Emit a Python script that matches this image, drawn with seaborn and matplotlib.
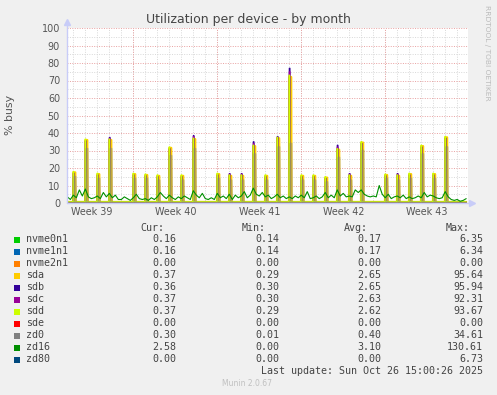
import numpy as np
import pandas as pd
import matplotlib
matplotlib.use("Agg")
import matplotlib.pyplot as plt
from matplotlib.patches import Rectangle
import seaborn as sns

# ---------------- data ----------------
TITLE = "Utilization per device - by month"
YLABEL = "% busy"
week_labels = ["Week 39", "Week 40", "Week 41", "Week 42", "Week 43"]
week_centers = [3.5, 10.5, 17.5, 24.5, 31.5]          # days since Mon Sep 22
week_starts = [7, 14, 21, 28]                          # Mondays (major grid)
x_start, x_end = 1.47, 34.9
data_end = 34.75

# daily spikes (day index, peak % busy)
spike_days = [2, 3, 4, 5, 7, 8, 9, 10, 11, 12, 14, 15, 16, 17, 18, 19, 20, 21,
              22, 23, 24, 25, 26, 28, 29, 30, 31, 32, 33]
sdd_peak = [18, 36.5, 17, 36.5, 17, 16.5, 16, 32, 16, 37, 17, 16, 16, 33, 16,
            37.5, 73, 16, 16, 15, 31, 16, 35, 16.5, 16, 17, 33, 17, 38]
sda_peak = [17.5, 36, 16.5, 36, 16.5, 16, 15.5, 31.5, 15.5, 36.5, 16.5, 15.5,
            15.5, 32.5, 15.5, 37, 72, 15.5, 15.5, 14.5, 30.5, 15.5, 34.5, 16,
            15.5, 16.5, 32.5, 16.5, 37.5]
sdb_peak = [17, 35.5, 16, 37.5, 16, 15.5, 15, 31, 15, 38.5, 16, 16.8, 16.8, 35,
            15, 38, 77, 15, 15, 14, 33, 16.8, 34, 15.5, 16.8, 16, 32, 16, 37]
sdc_peak = [17, 35.5, 16, 37, 16, 15.5, 15, 31, 15, 38, 16, 16.5, 16.5, 34,
            15, 37.5, 75, 15, 15, 14, 32, 16.5, 34, 15.5, 16.5, 16, 32, 16, 37]
zd0_peak = [15, 31, 14, 31, 14, 14, 13, 27, 13, 31, 14, 13, 13, 28, 13, 32, 34,
            13, 13, 12, 26, 13, 30, 14, 13, 14, 28, 14, 32]
sd_base = {"sda": 0.6, "sdb": 0.6, "sdc": 0.6, "sdd": 0.7, "zd0": 0.2}

# zd16: 4 samples per day starting at day 1.5
zd16_t0, zd16_step = 1.5, 0.25
zd16 = [3.5, 2.0,
        4.5, 3.0, 7.5, 4.0,
        8.0, 3.5, 2.5, 3.0,
        4.0, 2.5, 6.0, 3.5,
        5.5, 3.0, 4.5, 2.0,
        2.0, 3.5, 2.5, 1.5,
        3.0, 5.0, 2.5, 2.0,
        2.5, 1.5, 3.0, 2.0,
        3.5, 6.0, 4.0, 2.5,
        4.5, 3.0, 2.0, 3.5,
        2.5, 4.0, 3.0, 2.0,
        7.0, 4.5, 3.0, 5.5,
        2.5, 2.0, 3.0, 2.0,
        5.5, 3.0, 4.0, 2.5,
        5.0, 2.0, 4.5, 3.0,
        4.0, 6.5, 3.0, 4.5,
        8.5, 5.0, 4.0, 6.0,
        3.5, 4.5, 2.5, 3.5,
        5.0, 3.0, 4.0, 2.5,
        3.5, 2.5, 4.0, 3.0,
        4.5, 3.0, 6.5, 2.5,
        3.0, 4.0, 2.5, 3.5,
        6.0, 3.0, 4.5, 3.0,
        7.5, 4.0, 5.5, 3.5,
        4.0, 3.5, 7.5, 6.0,
        7.5, 5.0, 4.0, 3.5,
        4.0, 3.5, 10.0, 5.0,
        3.0, 5.0, 2.5, 3.5,
        4.0, 3.0, 4.5, 2.5,
        3.5, 2.5, 3.0, 4.0,
        3.0, 6.0, 3.5, 4.5,
        4.0, 3.0, 2.5, 3.0,
        6.5, 3.5, 2.0, 1.5,
        2.0, 1.0, 1.5, 2.5]

# near-flat series (sparse samples)
flat_days = [1.5, 6, 10, 14, 18, 22, 26, 30, 34.75]
nvme0n1 = [0.17, 0.16, 0.18, 0.17, 0.17, 0.16, 0.18, 0.17, 0.16]
nvme1n1 = [0.17, 0.16, 0.18, 0.17, 0.17, 0.16, 0.18, 0.17, 0.16]
nvme2n1 = [0, 0, 0, 0, 0, 0, 0, 0, 0]
sde = [0, 0, 0, 0, 0, 0, 0, 0, 0]
zd80 = [0, 0, 0, 0, 0, 0, 0, 0, 0]

# legend table
names = ["nvme0n1", "nvme1n1", "nvme2n1", "sda", "sdb", "sdc", "sdd", "sde",
         "zd0", "zd16", "zd80"]
colors = ["#00CC00", "#0066B3", "#FF8000", "#FFCC00", "#330099", "#990099",
          "#CCFF00", "#FF0000", "#808080", "#008F00", "#00487D"]
cur = [0.16, 0.16, 0.00, 0.37, 0.36, 0.37, 0.37, 0.00, 0.30, 2.58, 0.00]
vmin = [0.14, 0.14, 0.00, 0.29, 0.30, 0.30, 0.29, 0.00, 0.01, 0.00, 0.00]
vavg = [0.17, 0.17, 0.00, 2.65, 2.65, 2.63, 2.62, 0.00, 0.40, 3.10, 0.00]
vmax = [6.35, 6.34, 0.00, 95.64, 95.94, 92.31, 93.67, 0.00, 34.61, 130.61, 6.73]
last_update = "Last update: Sun Oct 26 15:00:26 2025"
footer = "Munin 2.0.67"
side_text = "RRDTOOL / TOBI OETIKER"

# ---------------- build frames ----------------
def spike_frame(peaks, base, shift, rise, top, fall):
    xs, ys = [x_start], [base]
    for d, h in zip(spike_days, peaks):
        s = d + shift
        xs += [s, s + rise, s + rise + top, s + rise + top + fall]
        ys += [base, h, h, base]
    xs.append(data_end)
    ys.append(base)
    return pd.DataFrame({"t": xs, "v": ys})

zd16_df = pd.DataFrame({"t": zd16_t0 + zd16_step * np.arange(len(zd16)), "v": zd16})

# ---------------- figure ----------------
sns.set_theme(style="white")
plt.rcParams["font.family"] = ["DejaVu Sans"]

W, H = 497, 395
fig = plt.figure(figsize=(W / 100, H / 100), dpi=100, facecolor="#F0F0F0")
ax = fig.add_axes([67 / W, (H - 203) / H, 401 / W, 175 / H])
ax.set_facecolor("white")

lw = 0.8
def line(df, color, **kw):
    sns.lineplot(data=df, x="t", y="v", ax=ax, color=color, lw=kw.pop("lw", lw),
                 estimator=None, sort=False, legend=False, **kw)

flat = lambda vals: pd.DataFrame({"t": flat_days, "v": vals})
line(flat(nvme0n1), colors[0])
line(flat(nvme1n1), colors[1])
line(flat(nvme2n1), colors[2])
line(spike_frame(sda_peak, sd_base["sda"], -0.02, 0.02, 0.16, 0.03), colors[3], lw=1.6)
line(spike_frame(sdb_peak, sd_base["sdb"], -0.02, 0.02, 0.06, 0.03), colors[4])
line(spike_frame(sdc_peak, sd_base["sdc"], -0.02, 0.02, 0.06, 0.03), colors[5])
line(spike_frame(sdd_peak, sd_base["sdd"], -0.03, 0.02, 0.04, 0.03), colors[6], lw=1.0)
line(flat(sde), colors[7])
line(spike_frame(zd0_peak, sd_base["zd0"], 0.06, 0.03, 0.10, 0.04), colors[8], alpha=0.45, lw=1.3)
line(zd16_df, colors[9])
line(flat(zd80), colors[10])

ax.set_xlim(x_start, x_end)
ax.set_ylim(0, 100)
ax.set_xlabel("")
ax.set_ylabel("")

# grid
ax.set_yticks(np.arange(0, 101, 10))
ax.set_yticks(np.arange(5, 100, 10), minor=True)
ax.set_xticks(week_centers)
ax.set_xticklabels(week_labels)
ax.set_xticks(np.arange(2, 35, 1), minor=True)
ax.grid(False)
ax.grid(which="minor", axis="both", color="#D8D8D8", lw=0.7, ls=(0, (1, 1.5)))
ax.grid(which="major", axis="y", color="#E8A0A0", lw=0.7, ls=(0, (1, 1.5)))
for d in week_starts:
    ax.axvline(d, color="#E8A0A0", lw=0.7, ls=(0, (1, 1.5)), zorder=0.6)
ax.set_axisbelow(True)

for s in ax.spines.values():
    s.set_visible(False)
ax.tick_params(axis="both", which="both", length=0, labelsize=6.9,
               labelcolor="#555555")
ax.tick_params(axis="y", pad=5)
ax.tick_params(axis="x", pad=3)

# axes (rrdtool style arrows)
axis_c = "#C8CCF8"
ax.plot([0, 0], [0, 1.033], transform=ax.transAxes, color=axis_c, lw=1, clip_on=False)
ax.plot([0, 1.01], [0, 0], transform=ax.transAxes, color=axis_c, lw=1, clip_on=False)
ax.plot([0], [1.033], transform=ax.transAxes, marker="^", ms=4, color=axis_c, clip_on=False)
ax.plot([1.01], [0], transform=ax.transAxes, marker=">", ms=4, color=axis_c, clip_on=False)

# titles
def px(x, y):
    return x / W, 1 - y / H

fig.text(*px(248, 19.5), TITLE, ha="center", va="center", fontsize=9, color="#444444")
fig.text(*px(10, 115), YLABEL, ha="center", va="center", rotation=90,
         fontsize=7.9, color="#555555")
fig.text(*px(487, 53), side_text, ha="center", va="center", rotation=270,
         fontsize=5.4, color="#BBBBBB")

# legend table
mono = dict(family="DejaVu Sans Mono", fontsize=7.2, color="#444444", va="center")
for label, xr in zip(["Cur:", "Min:", "Avg:", "Max:"], [164, 266, 368, 470]):
    fig.text(*px(xr, 228), label, ha="right", **mono)
for i, n in enumerate(names):
    y = 239.5 + 12 * i
    fig.add_artist(Rectangle(px(14, y + 3), 6 / W, 6 / H, transform=fig.transFigure,
                             facecolor=colors[i], edgecolor="none"))
    fig.text(*px(26, y), n, ha="left", **mono)
    for vals, xr in zip([cur, vmin, vavg, vmax], [176, 279, 381, 483]):
        fig.text(*px(xr, y), f"{vals[i]:.2f}", ha="right", **mono)
fig.text(*px(483, 371), last_update, ha="right", **mono)
fig.text(*px(247, 384), footer, ha="center", va="center", fontsize=5.5, color="#C0C0C0")

fig.savefig("out.png", dpi=100, facecolor=fig.get_facecolor())
